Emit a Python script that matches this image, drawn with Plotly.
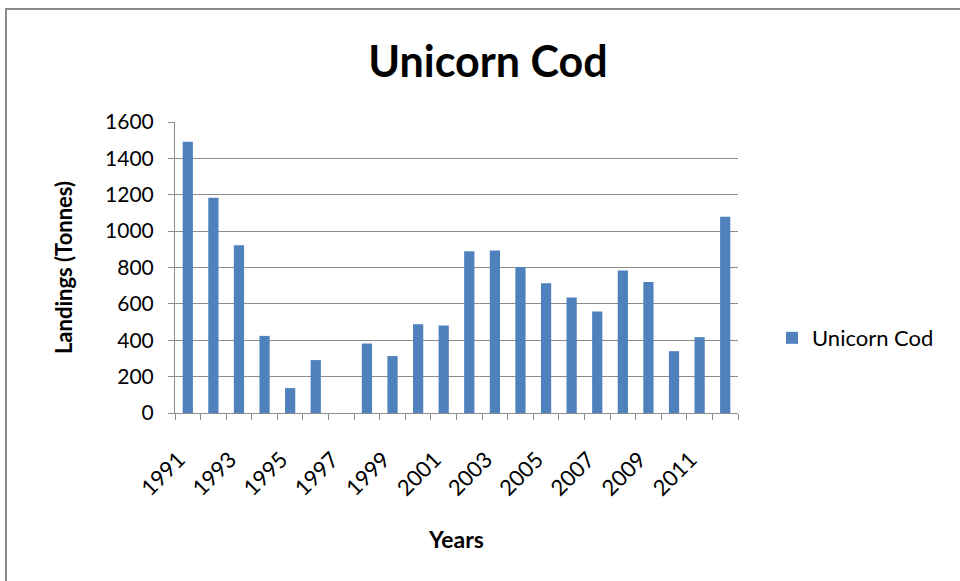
import plotly.graph_objects as go

# Annual landings of Unicorn Cod
years = [str(y) for y in range(1991, 2013)]
landings = [1492, 1183, 923, 424, 137, 291, 0, 382, 313, 488, 481,
            889, 894, 803, 713, 635, 558, 783, 720, 340, 417, 1079]
tick_labels = [y if i % 2 == 0 else "" for i, y in enumerate(years)]

FONT = "Lato"
GRID = "#8c8c8c"

fig = go.Figure()
fig.add_trace(go.Bar(
    x=years, y=landings, name="Unicorn Cod",
    marker=dict(color="#4F81BD", line=dict(width=0)),
))

W, H = 960, 581
ml, mr, mt, mb = 175, 222, 122, 168
pw, ph = W - ml - mr, H - mt - mb

def px_x(p):
    return (p - ml) / pw

def px_y(p):
    return (H - mb - p) / ph

fig.update_layout(
    width=W, height=H,
    margin=dict(l=ml, r=mr, t=mt, b=mb),
    paper_bgcolor="white", plot_bgcolor="white",
    bargap=0.6,
    showlegend=True,
    font=dict(family=FONT, color="#000000", size=20),
    title=dict(text="<b>Unicorn Cod</b>", x=(488 / W), xanchor="center",
               y=1 - 62 / H, yanchor="middle",
               font=dict(family=FONT, size=43, color="#000000")),
    legend=dict(x=px_x(772), xanchor="left", y=px_y(338), yanchor="middle",
                font=dict(family=FONT, size=22), bgcolor="rgba(0,0,0,0)",
                itemwidth=30),
    xaxis=dict(
        type="category", tickmode="array", tickvals=years, ticktext=tick_labels,
        tickangle=-45, tickson="boundaries", ticks="outside", ticklen=6,
        tickcolor=GRID, showline=True, linecolor=GRID, linewidth=1,
        showgrid=False, tickfont=dict(family=FONT, size=22),
        ticklabelstandoff=24, ticklabelshift=-9,
        title=dict(text="<b>Years</b>", font=dict(family=FONT, size=23), standoff=32),
    ),
    yaxis=dict(
        range=[0, 1600], dtick=200, ticks="outside", ticklen=6, tickcolor=GRID,
        showline=True, linecolor=GRID, linewidth=1,
        showgrid=True, gridcolor=GRID, gridwidth=1, zeroline=False,
        tickfont=dict(family=FONT, size=21), ticklabelstandoff=10,
        title=dict(text="<b>Landings (Tonnes)</b>", font=dict(family=FONT, size=22),
                   standoff=26),
    ),
)

# Chart frame (left and top edges visible)
fig.add_shape(type="rect", xref="paper", yref="paper",
              x0=px_x(6), x1=px_x(990), y0=px_y(600), y1=px_y(9),
              line=dict(color="#8a8a8a", width=2), fillcolor="rgba(0,0,0,0)",
              layer="below")

fig.write_html("out.html")
